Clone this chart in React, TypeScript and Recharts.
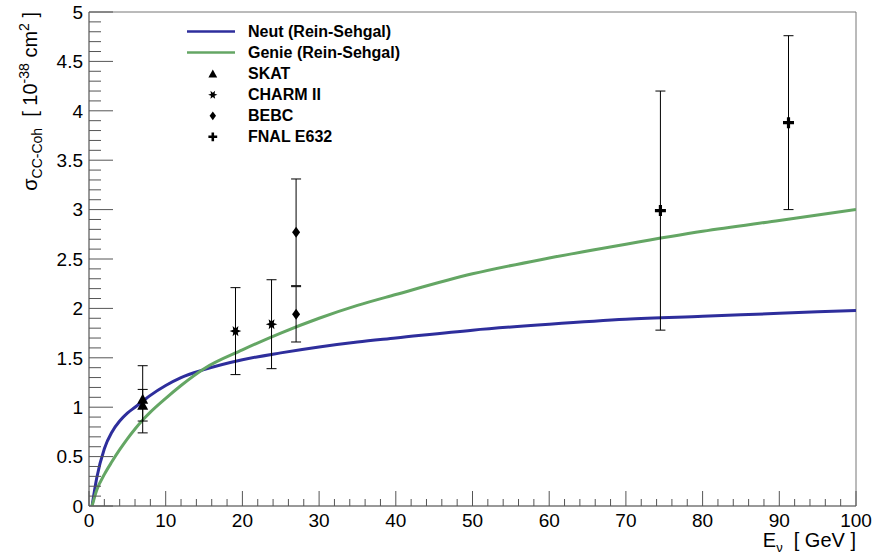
import {
	ComposedChart,
	Line,
	Scatter,
	ErrorBar,
	XAxis,
	YAxis,
	ReferenceArea,
} from "recharts";

// curves (energy in GeV, cross section in 1e-38 cm^2)
const curveEnergy = [0.4, 1, 2, 3, 4, 5, 6, 7, 8, 10, 12, 15, 20, 25, 30, 35, 40, 50, 60, 70, 80, 90, 100];
const neutSigma = [0, 0.28, 0.58, 0.75, 0.86, 0.94, 1.0, 1.06, 1.12, 1.22, 1.3, 1.38, 1.48, 1.55, 1.61, 1.66, 1.7, 1.78, 1.84, 1.89, 1.92, 1.95, 1.98];
const genieSigma = [0, 0.16, 0.32, 0.45, 0.57, 0.68, 0.78, 0.87, 0.95, 1.09, 1.22, 1.39, 1.58, 1.75, 1.9, 2.03, 2.14, 2.35, 2.51, 2.65, 2.78, 2.89, 3.0];

// measurements
const skatEnergy = [7, 7];
const skatSigma = [1.08, 1.02];
const skatErr = [0.34, 0.16];

const charmEnergy = [19.1, 23.8];
const charmSigma = [1.77, 1.84];
const charmErr = [0.44, 0.45];

const bebcEnergy = [27, 27];
const bebcSigma = [2.77, 1.94];
const bebcErr = [0.54, 0.28];

const fnalEnergy = [74.5, 91.2];
const fnalSigma = [2.99, 3.88];
const fnalErr = [1.21, 0.88];

const xTicks = Array.from({ length: 51 }, (_, i) => i * 2);
const yTicks = Array.from({ length: 51 }, (_, i) => Math.round(i * 10) / 100);

const FONT = "'Liberation Sans', Arial, Helvetica, sans-serif";
const BLUE = "#2e2e9c";
const GREEN = "#64a664";
const TICK = "#555";
const NB = "\u00a0";

const toCurve = (xs: number[], ys: number[]) => xs.map((x, i) => ({ x, y: ys[i] }));
const toPoints = (xs: number[], ys: number[], es: number[]) =>
	xs.map((x, i) => ({ x, y: ys[i], err: es[i] }));

const neutData = toCurve(curveEnergy, neutSigma);
const genieData = toCurve(curveEnergy, genieSigma);
const skatData = toPoints(skatEnergy, skatSigma, skatErr);
const charmData = toPoints(charmEnergy, charmSigma, charmErr);
const bebcData = toPoints(bebcEnergy, bebcSigma, bebcErr);
const fnalData = toPoints(fnalEnergy, fnalSigma, fnalErr);

const triangle = (cx: number, cy: number) => (
	<path d={`M${cx},${cy - 5.5} L${cx + 5.5},${cy + 4.5} L${cx - 5.5},${cy + 4.5} Z`} fill="#000" />
);
// six-pointed star, horns up and down
const star = (cx: number, cy: number) => {
	let d = "";
	for (let i = 0; i < 12; i++) {
		const r = i % 2 === 0 ? 5.8 : 2.6;
		const a = (Math.PI / 6) * i;
		d += `${i === 0 ? "M" : "L"}${cx + r * Math.cos(a)},${cy + r * Math.sin(a)} `;
	}
	return <path d={d + "Z"} fill="#000" />;
};
const diamond = (cx: number, cy: number) => (
	<path d={`M${cx},${cy - 5.5} L${cx + 4},${cy} L${cx},${cy + 5.5} L${cx - 4},${cy} Z`} fill="#000" />
);
const cross = (cx: number, cy: number) => (
	<path
		d={`M${cx - 1.6},${cy - 5.5} h3.2 v3.9 h3.9 v3.2 h-3.9 v3.9 h-3.2 v-3.9 h-3.9 v-3.2 h3.9 Z`}
		fill="#000"
	/>
);

const shapeOf = (fn: (cx: number, cy: number) => any) => (props: any) => fn(props.cx, props.cy);

const XTick = (props: any) => {
	const { x, y, payload } = props;
	const v = payload.value;
	const major = v % 10 === 0;
	const axisY = y - 6;
	return (
		<g>
			<line x1={x} x2={x} y1={axisY} y2={axisY - (major ? 15 : 7)} stroke={TICK} />
			{major && (
				<text x={x} y={axisY + 21} textAnchor="middle" fontSize={19} fontFamily={FONT} fill="#000">
					{v}
				</text>
			)}
		</g>
	);
};

const YTick = (props: any) => {
	const { x, y, payload } = props;
	const v = payload.value;
	const major = Math.abs(v * 2 - Math.round(v * 2)) < 1e-6;
	const axisX = x + 6;
	return (
		<g>
			<line x1={axisX} x2={axisX + (major ? 24 : 12)} y1={y} y2={y} stroke={TICK} />
			{major && (
				<text x={x} y={y} dy="0.36em" textAnchor="end" fontSize={19} fontFamily={FONT} fill="#000">
					{v}
				</text>
			)}
		</g>
	);
};

const YTitle = () => (
	<text
		x={37}
		y={12}
		transform="rotate(-90, 37, 12)"
		textAnchor="end"
		fontSize={20}
		fontFamily={FONT}
		fill="#000">
		<tspan>σ</tspan>
		<tspan fontSize={14} dy={5}>CC-Coh</tspan>
		<tspan dy={-5}>{`${NB}${NB}[${NB}10`}</tspan>
		<tspan fontSize={14} dy={-8}>-38</tspan>
		<tspan dy={8}>{`${NB}cm`}</tspan>
		<tspan fontSize={14} dy={-8}>2</tspan>
		<tspan dy={8}>{`${NB}]`}</tspan>
	</text>
);

const XTitle = () => (
	<text x={856} y={547} textAnchor="end" fontSize={20} fontFamily={FONT} fill="#000">
		<tspan>E</tspan>
		<tspan fontSize={13} dy={5}>ν</tspan>
		<tspan dy={-5}>{`${NB}${NB}[${NB}GeV${NB}]`}</tspan>
	</text>
);

const legendRows = [
	{ label: "Neut (Rein-Sehgal)", kind: "line", color: BLUE },
	{ label: "Genie (Rein-Sehgal)", kind: "line", color: GREEN },
	{ label: "SKAT", kind: "marker", draw: triangle },
	{ label: "CHARM II", kind: "marker", draw: star },
	{ label: "BEBC", kind: "marker", draw: diamond },
	{ label: "FNAL E632", kind: "marker", draw: cross },
];

const LegendBox = () => (
	<div style={{ position: "absolute", left: 180, top: 21 }}>
		{legendRows.map((r) => (
			<div key={r.label} style={{ display: "flex", alignItems: "center", height: 21 }}>
				<svg width={68} height={21}>
					{r.kind === "line" ? (
						<line x1={7} x2={55} y1={10.5} y2={10.5} stroke={r.color} strokeWidth={2.5} />
					) : (
						<g transform="scale(0.8) translate(8,3)">{(r as any).draw(33, 10.5)}</g>
					)}
				</svg>
				<span style={{ fontFamily: FONT, fontWeight: "bold", fontSize: 16, color: "#000" }}>
					{r.label}
				</span>
			</div>
		))}
	</div>
);

export default function App() {
	return (
		<div style={{ position: "absolute", left: 0, top: 0, width: 876, height: 556, background: "#fff" }}>
			<ComposedChart width={876} height={556} margin={{ top: 12, right: 20, left: 29, bottom: 0 }}>
				<XAxis
					dataKey="x"
					type="number"
					domain={[0, 100]}
					ticks={xTicks}
					interval={0}
					allowDataOverflow
					tickLine={false}
					tickSize={0}
					tickMargin={6}
					height={50}
					axisLine={{ stroke: "#777" }}
					tick={<XTick />}
					label={<XTitle />}
				/>
				<YAxis
					dataKey="y"
					type="number"
					domain={[0, 5]}
					ticks={yTicks}
					interval={0}
					allowDataOverflow
					tickLine={false}
					tickSize={0}
					tickMargin={6}
					width={60}
					axisLine={{ stroke: "#777" }}
					tick={<YTick />}
					label={<YTitle />}
				/>
				<ReferenceArea x1={0} x2={100} y1={0} y2={5} fill="none" stroke="#777" strokeWidth={1} />
				<Line
					data={neutData}
					dataKey="y"
					type="monotone"
					stroke={BLUE}
					strokeWidth={3}
					dot={false}
					isAnimationActive={false}
				/>
				<Line
					data={genieData}
					dataKey="y"
					type="monotone"
					stroke={GREEN}
					strokeWidth={3}
					dot={false}
					isAnimationActive={false}
				/>
				<Scatter data={skatData} dataKey="y" shape={shapeOf(triangle)} isAnimationActive={false}>
					<ErrorBar dataKey="err" direction="y" width={5} stroke="#000" strokeWidth={1} />
				</Scatter>
				<Scatter data={charmData} dataKey="y" shape={shapeOf(star)} isAnimationActive={false}>
					<ErrorBar dataKey="err" direction="y" width={5} stroke="#000" strokeWidth={1} />
				</Scatter>
				<Scatter data={bebcData} dataKey="y" shape={shapeOf(diamond)} isAnimationActive={false}>
					<ErrorBar dataKey="err" direction="y" width={5} stroke="#000" strokeWidth={1} />
				</Scatter>
				<Scatter data={fnalData} dataKey="y" shape={shapeOf(cross)} isAnimationActive={false}>
					<ErrorBar dataKey="err" direction="y" width={5} stroke="#000" strokeWidth={1} />
				</Scatter>
			</ComposedChart>
			<LegendBox />
		</div>
	);
}
